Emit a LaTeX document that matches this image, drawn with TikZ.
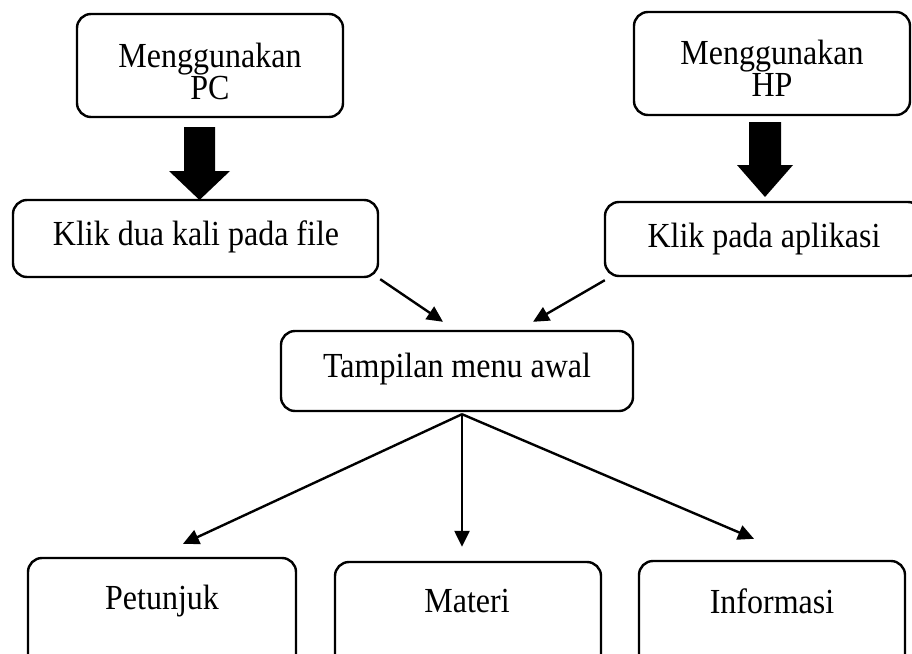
\documentclass[tikz,border=0pt]{standalone}
\usepackage{fontspec}
\usepackage{graphicx}
\setmainfont{Liberation Serif}
\usetikzlibrary{arrows.meta}
\newcommand{\tallt}[1]{\scalebox{1}[1.1]{#1}}
\begin{document}
\begin{tikzpicture}[x=1pt,y=-1pt,
  box/.style={draw, line width=2.4pt, rounded corners=14pt, inner sep=0pt},
  txt/.style={font=\fontsize{32}{33}\selectfont, inner sep=0pt, anchor=base},
  link/.style={line width=2.4pt, -{Triangle[length=16pt,width=15pt]}},
  blockarrow/.style={fill=black}]
\clip (0,0) rectangle (912,653);
\fill[white] (0,0) rectangle (912,653);
% boxes
\node[box, minimum width=266pt, minimum height=103pt] (pc) at (210,65.5) {};
\node[box, minimum width=276pt, minimum height=103pt] (hp) at (772,63.5) {};
\node[box, minimum width=365pt, minimum height=77pt] (kd) at (195.5,238.5) {};
\node[box, minimum width=317pt, minimum height=74pt] (kp) at (763.5,239) {};
\node[box, minimum width=352pt, minimum height=80pt] (tm) at (457,371) {};
\node[box, minimum width=268pt, minimum height=132pt] (pt) at (162,624) {};
\node[box, minimum width=266pt, minimum height=128pt] (mt) at (468,626) {};
\node[box, minimum width=266pt, minimum height=129pt] (in) at (772,625.5) {};
% texts
\node[txt] (pc1) at (210,67) {\tallt{Menggunakan}};
\node[txt] (pc2) at (210,99) {\tallt{PC}};
\node[txt] (hp1) at (772,64) {\tallt{Menggunakan}};
\node[txt] (hp2) at (772,96) {\tallt{HP}};
\node[txt] (kdt) at (196,245) {\tallt{Klik dua kali pada file}};
\node[txt] (kpt) at (764,247) {\tallt{Klik pada aplikasi}};
\node[txt] (tmt) at (457,377) {\tallt{Tampilan menu awal}};
\node[txt] (ptt) at (162,609) {\tallt{Petunjuk}};
\node[txt] (mtt) at (467,612) {\tallt{Materi}};
\node[txt] (int) at (772,613) {\tallt{Informasi}};
% block arrows
\fill[blockarrow] (184,127) -- (215,127) -- (215,171) -- (230,171) -- (199.5,200) -- (169,171) -- (184,171) -- cycle;
\fill[blockarrow] (749,122) -- (781,122) -- (781,165) -- (793,165) -- (765,197) -- (737,165) -- (749,165) -- cycle;
% thin arrows
\draw[link] ([xshift=1pt,yshift=-1pt]kd.south east) -- ([xshift=-14pt,yshift=8pt]tm.north);
\draw[link] ([xshift=1pt,yshift=-3pt]kp.south west) -- ([xshift=76pt,yshift=8pt]tm.north);
\draw[link] ([xshift=5pt,yshift=-2pt]tm.south) -- ([xshift=21pt,yshift=13pt]pt.north);
\draw[link] ([xshift=5pt,yshift=-2pt]tm.south) -- ([xshift=-6pt,yshift=14pt]mt.north);
\draw[link] ([xshift=5pt,yshift=-2pt]tm.south) -- ([xshift=-18pt,yshift=21pt]in.north);
\end{tikzpicture}
\end{document}
